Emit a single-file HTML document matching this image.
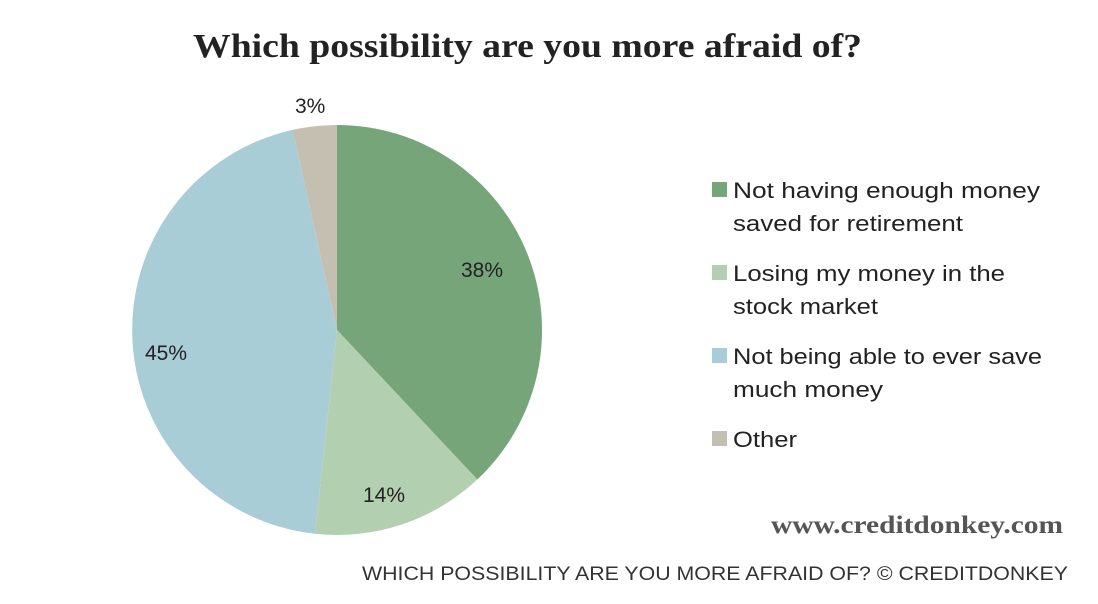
<!DOCTYPE html>
<html><head><meta charset="utf-8"><style>
html,body{margin:0;padding:0;background:#fff;}
svg{display:block;}
</style></head><body>
<svg width="1098" height="604" viewBox="0 0 1098 604" xmlns="http://www.w3.org/2000/svg">
<rect width="1098" height="604" fill="#fff"/>
<text x="193" y="57" font-family="Liberation Serif, serif" font-weight="bold" font-size="34" fill="#222" textLength="669" lengthAdjust="spacingAndGlyphs">Which possibility are you more afraid of?</text>
<g transform="translate(337,330)">
<path d="M0,0 L0,-205 A205,205 0 0 1 140.3,149.5 Z" fill="#76a57a"/>
<path d="M0,0 L140.3,149.5 A205,205 0 0 1 -22,203.8 Z" fill="#b2cfb0"/>
<path d="M0,0 L-22,203.8 A205,205 0 0 1 -44.4,-200.1 Z" fill="#a8cdd6"/>
<path d="M0,0 L-44.4,-200.1 A205,205 0 0 1 0,-205 Z" fill="#c4bfb0"/>
</g>
<g font-family="Liberation Sans, sans-serif" font-size="21" fill="#222">
<text x="295" y="113">3%</text>
<text x="461" y="277">38%</text>
<text x="363" y="502">14%</text>
<text x="145" y="360">45%</text>
</g>
<g font-family="Liberation Sans, sans-serif" font-size="22" fill="#222">
<rect x="712" y="182" width="15" height="15" fill="#76a57a"/>
<text x="733" y="198" textLength="307" lengthAdjust="spacingAndGlyphs">Not having enough money</text>
<text x="733" y="231" textLength="230" lengthAdjust="spacingAndGlyphs">saved for retirement</text>
<rect x="712" y="265" width="15" height="15" fill="#b2cfb0"/>
<text x="733" y="281" textLength="272" lengthAdjust="spacingAndGlyphs">Losing my money in the</text>
<text x="733" y="314" textLength="145" lengthAdjust="spacingAndGlyphs">stock market</text>
<rect x="712" y="348" width="15" height="15" fill="#a8cdd6"/>
<text x="733" y="364" textLength="309" lengthAdjust="spacingAndGlyphs">Not being able to ever save</text>
<text x="733" y="397" textLength="150" lengthAdjust="spacingAndGlyphs">much money</text>
<rect x="712" y="431" width="15" height="15" fill="#c4bfb0"/>
<text x="733" y="447" textLength="64" lengthAdjust="spacingAndGlyphs">Other</text>
</g>
<text x="771" y="533" font-family="Liberation Serif, serif" font-weight="bold" font-size="25" fill="#555" textLength="292" lengthAdjust="spacingAndGlyphs">www.creditdonkey.com</text>
<text x="362" y="580" font-family="Liberation Sans, sans-serif" font-size="19" fill="#333" textLength="706" lengthAdjust="spacingAndGlyphs">WHICH POSSIBILITY ARE YOU MORE AFRAID OF? © CREDITDONKEY</text>
</svg>
</body></html>
